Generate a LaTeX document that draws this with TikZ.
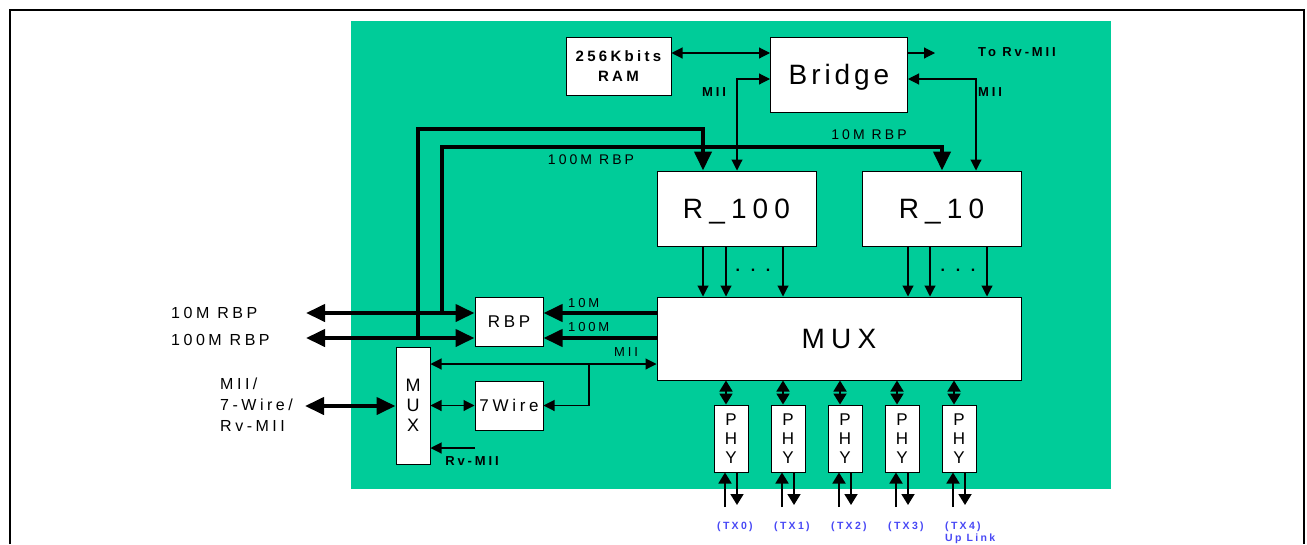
\documentclass[tikz,border=0pt]{standalone}
\usepackage{fontspec}
\setmainfont{Liberation Sans}[LetterSpace=22]
\usetikzlibrary{arrows.meta}
\definecolor{boardgreen}{RGB}{0,204,153}
\definecolor{txblue}{RGB}{72,72,245}

\begin{document}
\begin{tikzpicture}[x=1pt,y=-1pt,>={Triangle[length=11pt,width=11pt]},
  blk/.style={draw,fill=white,line width=1pt,inner sep=0pt},
  sig/.style={line width=1.1pt},
  bus/.style={line width=4pt,>={Triangle[length=19pt,width=17pt]}},
  port/.style={line width=1.8pt,>={Triangle[length=11pt,width=13pt]}},
  big/.style={font=\fontsize{28}{30}\selectfont,text depth=0pt},
  lbl/.style={inner sep=0pt,font=\fontsize{14}{17}\selectfont},
  tag/.style={inner sep=0pt,font=\bfseries\fontsize{13}{15}\selectfont},
  txt/.style={inner sep=0pt,text=txblue,font=\bfseries\fontsize{10.5}{12}\selectfont}]
  \useasboundingbox (0,0) rectangle (1307,544);
  \fill[boardgreen] (351,21) rectangle (1111,489);
  \draw[line width=2.5pt] (10,544) -- (10,10) -- (1304,10) -- (1304,544);
  % blocks
  \node[blk,minimum width=105pt,minimum height=58pt,align=center,
    font=\bfseries\fontsize{15}{20}\selectfont] (ram) at (618.5,66) {256Kbits\\RAM};
  \node[blk,minimum width=137pt,minimum height=75pt,big] (bridge) at (839,74.5)
    {\addfontfeature{LetterSpace=14}Bridge};
  \node[blk,minimum width=159pt,minimum height=75pt,big] (r100) at (736.5,208.5) {R\_100};
  \node[blk,minimum width=159pt,minimum height=75pt,big] (r10) at (941.5,208.5) {R\_10};
  \node[blk,minimum width=364pt,minimum height=83pt,big] (mux) at (839,338.5) {MUX};
  \node[blk,minimum width=68pt,minimum height=49pt,font=\fontsize{17}{20}\selectfont]
    (rbp) at (509,321.5) {RBP};
  \node[blk,minimum width=68pt,minimum height=49pt,font=\fontsize{17}{20}\selectfont]
    (wire) at (509,405.5) {7Wire};
  \node[blk,minimum width=34pt,minimum height=117pt,align=center,
    font=\fontsize{18}{20}\selectfont] (smux) at (413,405.5) {M\\U\\X};
  % bridge links
  \draw[sig,<->] (ram.east |- 0,53) -- (bridge.west |- 0,53);
  \coordinate (rvout) at (935,53);
  \draw[sig,->] (bridge.east |- rvout) -- (rvout);
  \node[tag,anchor=west] (torv) at (978,52) {To Rv-MII};
  \draw[sig,<->] (bridge.west |- 0,79) -| (r100.north -| 737,0);
  \draw[sig,<->] (bridge.east |- 0,79) -| (r10.north -| 976,0);
  \node[tag] (miil) at (714,92) {MII};
  \node[tag] (miir) at (990,92) {MII};
  % RBP buses
  \coordinate (p10) at (306,313);
  \coordinate (p100) at (306,338);
  \coordinate (j10) at (442,313);
  \coordinate (j100) at (418,338);
  \draw[bus,<->] (p10) -- (rbp.west |- p10);
  \draw[bus,<->] (p100) -- (rbp.west |- p100);
  \draw[bus,->] (j100) |- (703,129) -- (r100.north -| 703,0);
  \draw[bus,->] (j10) |- (942,147) -- (r10.north -| 942,0);
  \draw[bus,->] (mux.west |- p10) -- (rbp.east |- p10);
  \draw[bus,->] (mux.west |- p100) -- (rbp.east |- p100);
  \node[lbl,anchor=west,font=\fontsize{16}{19}\selectfont] (l10) at (171,313) {10M RBP};
  \node[lbl,anchor=west,font=\fontsize{16}{19}\selectfont] (l100) at (171,340) {100M RBP};
  \node[lbl] (t100) at (591,160) {100M RBP};
  \node[lbl] (t10) at (869,135) {10M RBP};
  \node[lbl,anchor=west,font=\fontsize{13}{15}\selectfont] (m10) at (568,303) {10M};
  \node[lbl,anchor=west,font=\fontsize{13}{15}\selectfont] (m100) at (568,327) {100M};
  % MII / 7-wire side
  \coordinate (tap) at (589,364);
  \coordinate (pin) at (305,406);
  \coordinate (rvin) at (475,448);
  \draw[sig,<->] (smux.east |- tap) -- (mux.west |- tap);
  \draw[sig,->] (tap) |- (wire.east);
  \draw[sig,<->] (smux.east |- wire) -- (wire.west);
  \draw[bus,<->] (pin) -- (smux.west |- pin);
  \draw[sig,->] (rvin) -- (smux.east |- rvin);
  \node[lbl,font=\fontsize{13}{15}\selectfont] (miim) at (626,352) {MII};
  \node[tag] (rvmii) at (472,461) {Rv-MII};
  \node[lbl,anchor=west,align=left,font=\fontsize{16}{21}\selectfont] (lmii) at (220,405)
    {MII/\\7-Wire/\\Rv-MII};
  % R -> MUX
  \draw[sig,->] (r100.south -| 703,0) -- (mux.north -| 703,0);
  \draw[sig,->] (r100.south -| 726,0) -- (mux.north -| 726,0);
  \draw[sig,->] (r100.south -| 783,0) -- (mux.north -| 783,0);
  \draw[sig,->] (r10.south -| 908,0) -- (mux.north -| 908,0);
  \draw[sig,->] (r10.south -| 930,0) -- (mux.north -| 930,0);
  \draw[sig,->] (r10.south -| 987,0) -- (mux.north -| 987,0);
  \node[lbl,font=\bfseries\fontsize{16}{17}\selectfont] (dots1) at (753,270) {. . .};
  \node[lbl,font=\bfseries\fontsize{16}{17}\selectfont] (dots2) at (958,270) {. . .};
  % PHYs
  \foreach \i in {0,...,4}{
    \node[blk,minimum width=34pt,minimum height=67pt,align=center,
      font=\fontsize{17}{19}\selectfont] (phy\i) at (731+57*\i,438.5) {P\\H\\Y};
    \coordinate (up\i) at ([xshift=-5pt]phy\i.north);
    \coordinate (rx\i) at ([xshift=-6pt]phy\i.south);
    \coordinate (tx\i) at ([xshift=6pt]phy\i.south);
    \draw[port,<->] (up\i |- mux.south) -- (up\i);
    \draw[port,->] (rx\i |- 0,507) -- (rx\i);
    \draw[port,->] (tx\i) -- (tx\i |- 0,505);
    \node[txt,anchor=west] (lab\i) at (717+57*\i,527) {(TX\i)};
  }
  \node[txt,anchor=west] (uplink) at (lab4.west |- 0,539) {Up Link};
\end{tikzpicture}
\end{document}
